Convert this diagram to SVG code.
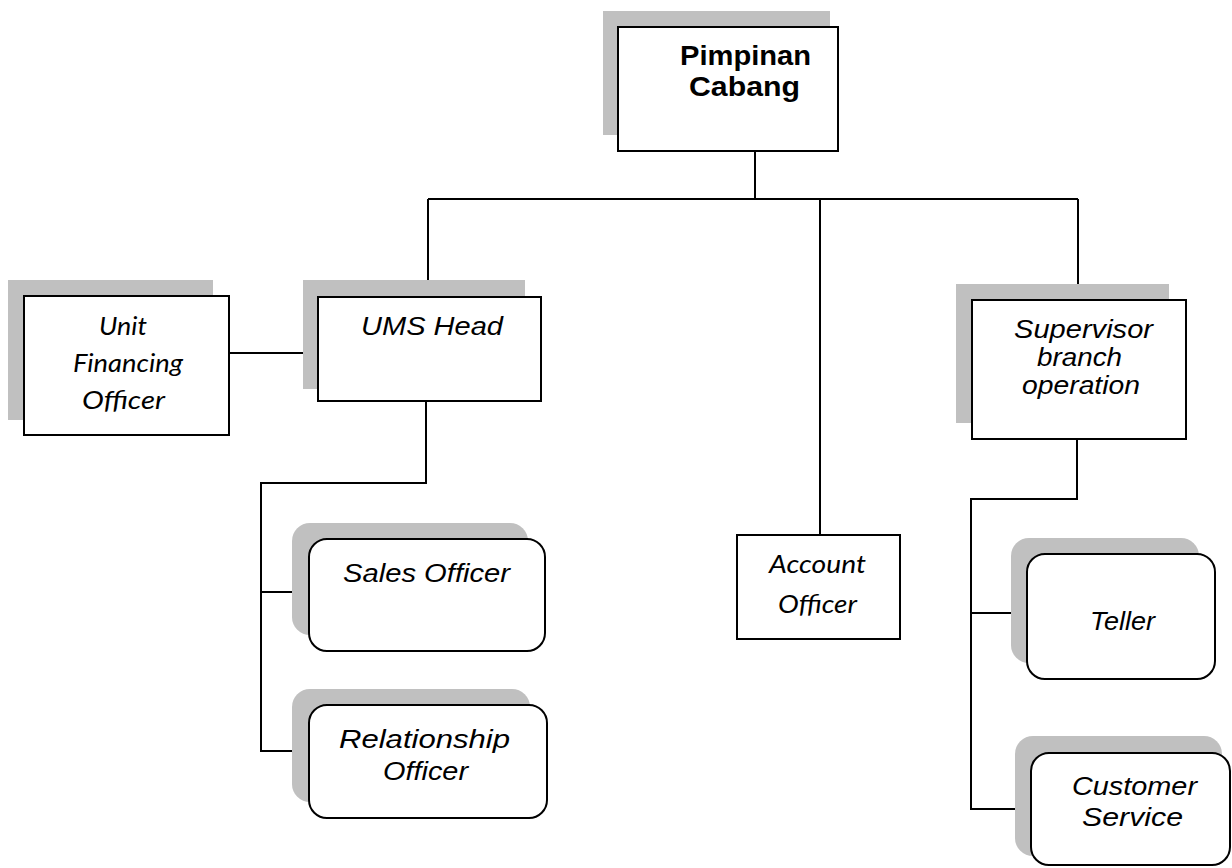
<svg xmlns="http://www.w3.org/2000/svg" width="1232" height="868" viewBox="0 0 1232 868">
  <style>
    .shadow { fill: #c0c0c0; stroke: none; }
    .box { fill: #ffffff; stroke: #000000; stroke-width: 2; }
    .conn { fill: none; stroke: #000000; stroke-width: 2; }
    .arial { font-family: "Liberation Sans", Arial, sans-serif; font-style: italic; font-size: 26px; fill: #000; }
    .bold { font-family: "Liberation Sans", Arial, sans-serif; font-weight: bold; font-size: 28px; fill: #000; }
    .cal { font-family: Lato, "Noto Sans", sans-serif; font-style: italic; font-size: 26px; fill: #000; }
  </style>
  <rect width="1232" height="868" fill="#ffffff"/>

  <g id="connectors">
    <path class="conn" d="M755,151 V199 M428,199 H1078 M428,199 V297 M820,199 V535 M1078,199 V300"/>
    <path class="conn" d="M229,353 H318"/>
    <path class="conn" d="M426,401 V483 H261 V751 H309 M261,592 H309"/>
    <path class="conn" d="M1077,439 V499 H971 V809 H1031 M971,613 H1027"/>
  </g>

  <g id="pimpinan-cabang">
    <rect class="shadow" x="603" y="11" width="227" height="124"/>
    <rect class="box" x="618" y="27" width="220" height="124"/>
    <text class="bold" x="745.5" y="65" text-anchor="middle" textLength="131" lengthAdjust="spacingAndGlyphs">Pimpinan</text>
    <text class="bold" x="744.5" y="96" text-anchor="middle" textLength="111" lengthAdjust="spacingAndGlyphs">Cabang</text>
  </g>

  <g id="unit-financing-officer">
    <rect class="shadow" x="8" y="280" width="205" height="140"/>
    <rect class="box" x="24" y="296" width="205" height="139"/>
    <text class="cal" x="123" y="335" text-anchor="middle" textLength="48" lengthAdjust="spacingAndGlyphs">Unit</text>
    <text class="cal" x="128" y="372" text-anchor="middle" textLength="110" lengthAdjust="spacingAndGlyphs">Financing</text>
    <text class="cal" x="123.5" y="409" text-anchor="middle" textLength="83" lengthAdjust="spacingAndGlyphs">Officer</text>
  </g>

  <g id="ums-head">
    <rect class="shadow" x="303" y="280" width="222" height="109"/>
    <rect class="box" x="318" y="297" width="223" height="104"/>
    <text class="arial" x="432" y="335" text-anchor="middle" textLength="142" lengthAdjust="spacingAndGlyphs">UMS Head</text>
  </g>

  <g id="supervisor-branch-operation">
    <rect class="shadow" x="956" y="284" width="213" height="139"/>
    <rect class="box" x="972" y="300" width="214" height="139"/>
    <text class="arial" x="1083.5" y="338" text-anchor="middle" textLength="139" lengthAdjust="spacingAndGlyphs">Supervisor</text>
    <text class="arial" x="1079.5" y="366" text-anchor="middle" textLength="85" lengthAdjust="spacingAndGlyphs">branch</text>
    <text class="arial" x="1081" y="394" text-anchor="middle" textLength="118" lengthAdjust="spacingAndGlyphs">operation</text>
  </g>

  <g id="account-officer">
    <rect class="box" x="737" y="535" width="163" height="104"/>
    <text class="cal" x="817.5" y="573" text-anchor="middle" textLength="97" lengthAdjust="spacingAndGlyphs">Account</text>
    <text class="cal" x="817.5" y="613" text-anchor="middle" textLength="79" lengthAdjust="spacingAndGlyphs">Officer</text>
  </g>

  <g id="sales-officer">
    <rect class="shadow" x="292" y="523" width="236" height="112" rx="18"/>
    <rect class="box" x="309" y="539" width="236" height="112" rx="18"/>
    <text class="arial" x="426.5" y="582" text-anchor="middle" textLength="167" lengthAdjust="spacingAndGlyphs">Sales Officer</text>
  </g>

  <g id="relationship-officer">
    <rect class="shadow" x="292" y="689" width="238" height="113" rx="18"/>
    <rect class="box" x="309" y="705" width="238" height="113" rx="18"/>
    <text class="arial" x="424.5" y="748" text-anchor="middle" textLength="171" lengthAdjust="spacingAndGlyphs">Relationship</text>
    <text class="arial" x="425.5" y="780" text-anchor="middle" textLength="85" lengthAdjust="spacingAndGlyphs">Officer</text>
  </g>

  <g id="teller">
    <rect class="shadow" x="1011" y="538" width="188" height="125" rx="18"/>
    <rect class="box" x="1027" y="554" width="188" height="125" rx="18"/>
    <text class="arial" x="1122.5" y="630" text-anchor="middle" textLength="65" lengthAdjust="spacingAndGlyphs">Teller</text>
  </g>

  <g id="customer-service">
    <rect class="shadow" x="1015" y="736" width="207" height="120" rx="18"/>
    <rect class="box" x="1031" y="753" width="199" height="112" rx="18"/>
    <text class="arial" x="1134.5" y="795" text-anchor="middle" textLength="125" lengthAdjust="spacingAndGlyphs">Customer</text>
    <text class="arial" x="1132.5" y="826" text-anchor="middle" textLength="101" lengthAdjust="spacingAndGlyphs">Service</text>
  </g>
</svg>
